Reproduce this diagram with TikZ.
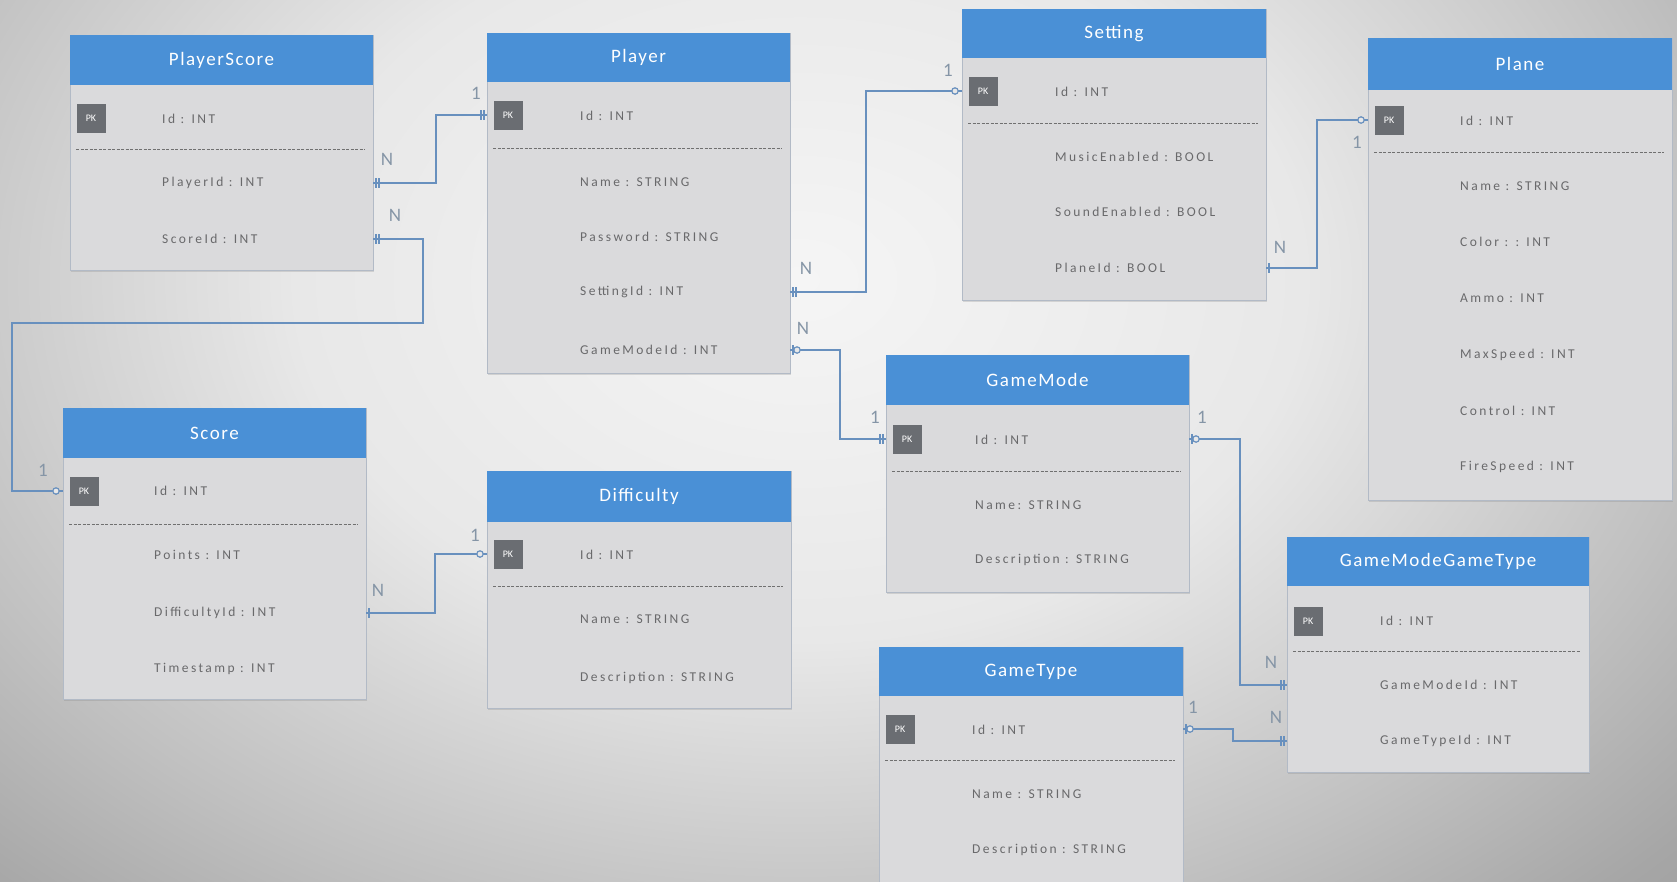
\documentclass[tikz,border=0pt]{standalone}
\usepackage{fontspec}
\setmainfont{Carlito}
\newfontfamily\fieldfont[LetterSpace=18]{Carlito}
\newfontfamily\titlefont[LetterSpace=8]{Carlito}
\usetikzlibrary{shadows}
\definecolor{hdrblue}{HTML}{4A90D6}
\definecolor{bodyfill}{HTML}{DADADC}
\definecolor{tblborder}{HTML}{B2BAC6}
\definecolor{pkgray}{HTML}{6A6D72}
\definecolor{fieldgray}{HTML}{69696B}
\definecolor{sepgray}{HTML}{707070}
\definecolor{connblue}{HTML}{6890BE}
\definecolor{labgray}{HTML}{8595A6}
\definecolor{bgA}{HTML}{F5F5F5}
\definecolor{bgB}{HTML}{E8E8E8}
\definecolor{bgC}{HTML}{C0C0C0}
\definecolor{bgD}{HTML}{A6A6A6}
\definecolor{bgE}{HTML}{949494}
\definecolor{bgF}{HTML}{8C8C8C}
\pgfdeclareradialshading{bgvign}{\pgfpoint{0bp}{0bp}}{color(0bp)=(bgA); color(12bp)=(bgB); color(22bp)=(bgC); color(28bp)=(bgD); color(35bp)=(bgE); color(50bp)=(bgF)}
\tikzset{
  tablebody/.style={draw=tblborder, fill=bodyfill, line width=1pt, inner sep=0pt, outer sep=0pt,
    drop shadow={shadow xshift=1pt, shadow yshift=-2pt, opacity=0.25}},
  tabletitle/.style={text=white, font={\titlefont\fontsize{19}{22}\selectfont}, inner sep=0pt},
  pkbox/.style={fill=pkgray, text=white, minimum size=29pt, inner sep=0pt, font={\fontsize{10}{11}\selectfont}},
  fieldtext/.style={anchor=west, text=fieldgray, font={\fieldfont\fontsize{13.5}{16}\selectfont}, inner sep=0pt},
  sepline/.style={draw=sepgray, dash pattern=on 3pt off 1.5pt, line width=0.9pt},
  connline/.style={draw=connblue, line width=1.6pt},
  cardlabel/.style={text=labgray, font={\fontsize{19}{22}\selectfont}, inner sep=0pt},
}
\newcommand{\ertable}[9]{%
  \node[tablebody, anchor=north west, minimum width={#4-#2}, minimum height={#5-#3}] (#1) at (#2,#3) {};
  \fill[hdrblue] (#2,#3) rectangle (#4,#6);
  \node[tabletitle] (#1-title) at ({(#2+#4)/2},{(#3+#6)/2}) {#7};
  \node[pkbox] (#1-pk) at ({#2+21},#8) {PK};
  \draw[sepline] ({#2+6},#9) -- ({#4-8},#9);
}
\newcommand{\erfield}[4]{\node[fieldtext] (#1) at (#2,#3) {#4};}
\newcommand{\ertwo}[2]{\draw[connline, line width=1.2pt, shift={(#1)}] ({#2*3},-5) -- ++(0,10) ({#2*6},-5) -- ++(0,10);}
\newcommand{\erone}[2]{\draw[connline, line width=1.2pt, shift={(#1)}] ({#2*3},-5) -- ++(0,10);}
\newcommand{\ercirc}[2]{\draw[connline, line width=1.2pt, fill=bgB, shift={(#1)}] ({#2*7},0) circle (3.2);}
\begin{document}
\begin{tikzpicture}[x=1pt,y=-1pt]
\useasboundingbox (0,0) rectangle (1677,881);
\begin{scope}
  \clip (0,0) rectangle (1677,881);
  \shade[shading=bgvign] (-250,-470) rectangle (1850,1030);
\end{scope}

% tables
\ertable{ps}{70}{35}{373}{270}{85}{PlayerScore}{118}{149}
\ertable{pl}{487}{33}{790}{373}{82}{Player}{115}{148}
\ertable{st}{962}{9}{1266}{300}{58}{Setting}{91}{123}
\ertable{pn}{1368}{38}{1672}{500}{90}{Plane}{120}{152}
\ertable{sc}{63}{408}{366}{699}{458}{Score}{491}{524}
\ertable{df}{487}{471}{791}{708}{522}{Difficulty}{554}{586}
\ertable{gm}{886}{355}{1189}{592}{405}{GameMode}{439}{471}
\ertable{gt}{879}{647}{1183}{900}{696}{GameType}{729}{760}
\ertable{gg}{1287}{537}{1589}{772}{586}{GameModeGameType}{621}{651}

% fields
\erfield{ps-f1}{162}{119}{Id : INT}
\erfield{ps-f2}{162}{183}{PlayerId : INT}
\erfield{ps-f3}{162}{239}{ScoreId : INT}

\erfield{pl-f1}{580}{116}{Id : INT}
\erfield{pl-f2}{580}{182}{Name : STRING}
\erfield{pl-f3}{580}{237}{Password : STRING}
\erfield{pl-f4}{580}{292}{SettingId : INT}
\erfield{pl-f5}{580}{350}{GameModeId : INT}

\erfield{st-f1}{1055}{92}{Id : INT}
\erfield{st-f2}{1055}{157}{MusicEnabled : BOOL}
\erfield{st-f3}{1055}{212}{SoundEnabled : BOOL}
\erfield{st-f4}{1055}{268}{PlaneId : BOOL}

\erfield{pn-f1}{1460}{121}{Id : INT}
\erfield{pn-f2}{1460}{186}{Name : STRING}
\erfield{pn-f3}{1460}{242}{Color : : INT}
\erfield{pn-f4}{1460}{298}{Ammo : INT}
\erfield{pn-f5}{1460}{355}{MaxSpeed : INT}
\erfield{pn-f6}{1460}{411}{Control : INT}
\erfield{pn-f7}{1460}{467}{FireSpeed : INT}

\erfield{sc-f1}{154}{491}{Id : INT}
\erfield{sc-f2}{154}{555}{Points : INT}
\erfield{sc-f3}{154}{613}{DifficultyId : INT}
\erfield{sc-f4}{154}{669}{Timestamp : INT}

\erfield{df-f1}{580}{555}{Id : INT}
\erfield{df-f2}{580}{619}{Name : STRING}
\erfield{df-f3}{580}{678}{Description : STRING}

\erfield{gm-f1}{975}{440}{Id : INT}
\erfield{gm-f2}{975}{505}{Name: STRING}
\erfield{gm-f3}{975}{560}{Description : STRING}

\erfield{gt-f1}{972}{730}{Id : INT}
\erfield{gt-f2}{972}{794}{Name : STRING}
\erfield{gt-f3}{972}{850}{Description : STRING}

\erfield{gg-f1}{1380}{621}{Id : INT}
\erfield{gg-f2}{1380}{685}{GameModeId : INT}
\erfield{gg-f3}{1380}{741}{GameTypeId : INT}

% connectors
\draw[connline] (ps.east |- ps-f2) -- ++(63,0) |- (pl.west |- pl-pk);
\draw[connline] (ps.east |- ps-f3) -- ++(50,0) -- ++(0,84) -- ++(-411,0) |- (sc.west |- sc-pk);
\draw[connline] (pl.east |- pl-f4) -- ++(76,0) |- (st.west |- st-pk);
\draw[connline] (pl.east |- pl-f5) -- ++(50,0) |- (gm.west |- gm-pk);
\draw[connline] (st.east |- st-f4) -- ++(51,0) |- (pn.west |- pn-pk);
\draw[connline] (sc.east |- sc-f3) -- ++(69,0) |- (df.west |- df-pk);
\draw[connline] (gm.east |- gm-pk) -- ++(51,0) |- (gg.west |- gg-f2);
\draw[connline] (gt.east |- gt-pk) -- ++(50,0) |- (gg.west |- gg-f3);

% end markers
\ertwo{ps.east |- ps-f2}{1}  \ertwo{pl.west |- pl-pk}{-1}
\ertwo{ps.east |- ps-f3}{1}  \ercirc{sc.west |- sc-pk}{-1}
\ertwo{pl.east |- pl-f4}{1}  \ercirc{st.west |- st-pk}{-1}
\erone{pl.east |- pl-f5}{1}  \ercirc{pl.east |- pl-f5}{1} \ertwo{gm.west |- gm-pk}{-1}
\erone{st.east |- st-f4}{1}  \ercirc{pn.west |- pn-pk}{-1}
\erone{sc.east |- sc-f3}{1}  \ercirc{df.west |- df-pk}{-1}
\erone{gm.east |- gm-pk}{1}  \ercirc{gm.east |- gm-pk}{1} \ertwo{gg.west |- gg-f2}{-1}
\erone{gt.east |- gt-pk}{1}  \ercirc{gt.east |- gt-pk}{1} \ertwo{gg.west |- gg-f3}{-1}

% cardinality labels
\node[cardlabel] (l1n) at (387,159) {N};
\node[cardlabel] (l1o) at (476,93) {1};
\node[cardlabel] (l2n) at (395,215) {N};
\node[cardlabel] (l2o) at (43,470) {1};
\node[cardlabel] (l3n) at (806,268) {N};
\node[cardlabel] (l3o) at (948,70) {1};
\node[cardlabel] (l4n) at (803,328) {N};
\node[cardlabel] (l4o) at (875,417) {1};
\node[cardlabel] (l5n) at (1280,247) {N};
\node[cardlabel] (l5o) at (1357,142) {1};
\node[cardlabel] (l6n) at (378,590) {N};
\node[cardlabel] (l6o) at (475,535) {1};
\node[cardlabel] (l7o) at (1202,417) {1};
\node[cardlabel] (l7n) at (1271,662) {N};
\node[cardlabel] (l8o) at (1193,707) {1};
\node[cardlabel] (l8n) at (1276,717) {N};
\end{tikzpicture}
\end{document}
